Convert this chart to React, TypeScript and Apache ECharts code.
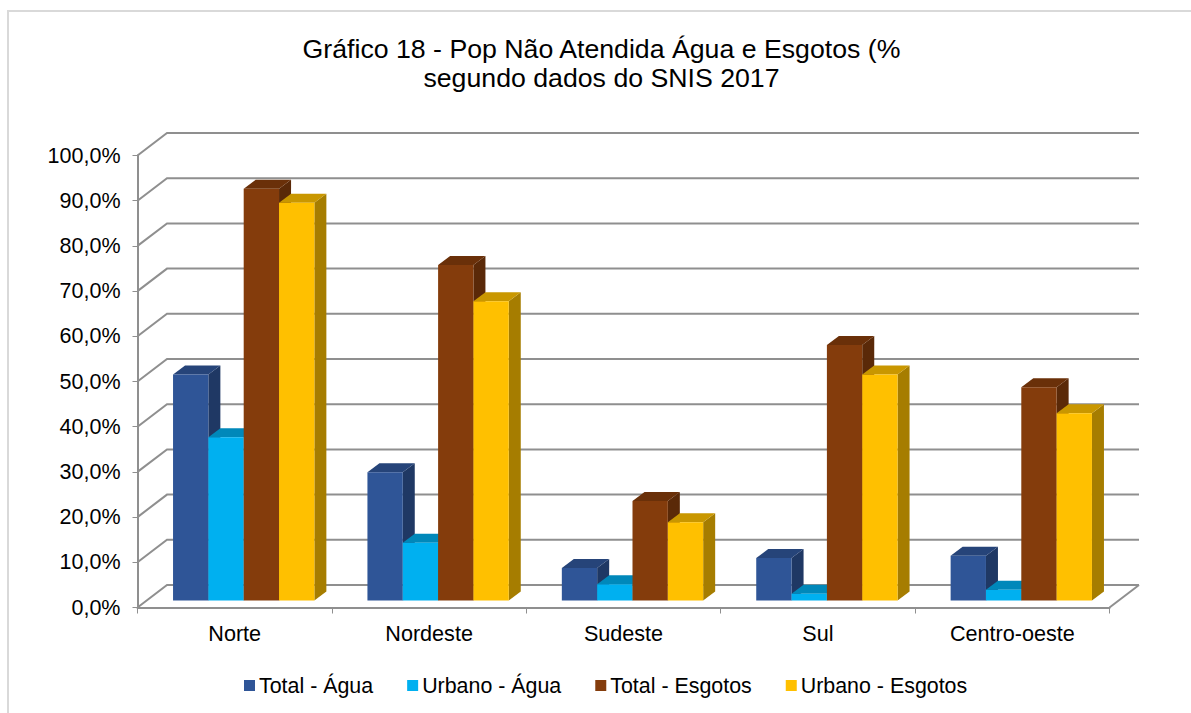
import React, { useEffect, useRef } from "react";
import * as echarts from "echarts";

const categories = ["Norte", "Nordeste", "Sudeste", "Sul", "Centro-oeste"];
const totalAgua = [50.0, 28.4, 7.2, 9.4, 9.9];
const urbanoAgua = [36.1, 12.8, 3.6, 1.5, 2.4];
const totalEsgotos = [91.1, 74.2, 22.0, 56.5, 47.2];
const urbanoEsgotos = [88.0, 66.2, 17.3, 50.0, 41.4];
const yTicks = [0, 10, 20, 30, 40, 50, 60, 70, 80, 90, 100];

const FONT = "'Liberation Sans', Arial, sans-serif";
const WALL_DX = 29.5;
const WALL_DY = -22.5;
const BAR_DX = 12;
const BAR_DY = -9;
const PLANE_DX = 9;
const PLANE_DY = -7;
const GROUP_RATIO = 0.727;
const GRID_COLOR = "#8f8f8f";

const seriesDefs = [
  { name: "Total - Água", values: totalAgua, front: "#2F5597", top: "#264479", side: "#1F3864" },
  { name: "Urbano - Água", values: urbanoAgua, front: "#00B0F0", top: "#0088BA", side: "#0078A5" },
  { name: "Total - Esgotos", values: totalEsgotos, front: "#843C0C", top: "#6A3009", side: "#5A2908" },
  { name: "Urbano - Esgotos", values: urbanoEsgotos, front: "#FFC000", top: "#C99700", side: "#A67D00" },
];

function barRenderer(k: number, def: (typeof seriesDefs)[number]) {
  return (_params: any, api: any) => {
    const cat = api.value(0);
    const val = api.value(1);
    const topPt = api.coord([cat, val]);
    const basePt = api.coord([cat, 0]);
    const band = api.size([1, 0])[0];
    const w = (band * GROUP_RATIO) / 4;
    const x0 = topPt[0] + PLANE_DX - 2 * w + k * w;
    const x1 = x0 + w;
    const yT = topPt[1] + PLANE_DY;
    const yB = basePt[1] + PLANE_DY;
    return {
      type: "group",
      children: [
        {
          type: "polygon",
          shape: { points: [[x1, yT], [x1 + BAR_DX, yT + BAR_DY], [x1 + BAR_DX, yB + BAR_DY], [x1, yB]] },
          style: { fill: def.side },
        },
        {
          type: "polygon",
          shape: { points: [[x0, yT], [x0 + BAR_DX, yT + BAR_DY], [x1 + BAR_DX, yT + BAR_DY], [x1, yT]] },
          style: { fill: def.top },
        },
        { type: "rect", shape: { x: x0, y: yT, width: w, height: yB - yT }, style: { fill: def.front } },
      ],
    };
  };
}

function wallRenderer(params: any, api: any) {
  const cs = params.coordSys;
  const y = api.coord([0, api.value(1)])[1];
  const xL = cs.x;
  const xR = cs.x + cs.width;
  const children: any[] = [
    {
      type: "polyline",
      shape: { points: [[xL, y], [xL + WALL_DX, y + WALL_DY], [xR + WALL_DX, y + WALL_DY]] },
      style: { stroke: GRID_COLOR, lineWidth: 2, fill: "none" },
    },
  ];
  if (api.value(1) === 0) {
    children.push({
      type: "line",
      shape: { x1: xR, y1: y, x2: xR + WALL_DX, y2: y + WALL_DY },
      style: { stroke: GRID_COLOR, lineWidth: 2 },
    });
  }
  return { type: "group", children };
}

export default function App() {
  const ref = useRef<HTMLDivElement>(null);
  useEffect(() => {
    document.body.style.margin = "0";
    document.body.style.overflow = "hidden";
    const chart = echarts.init(ref.current!, undefined, { renderer: "svg" });
    chart.setOption({
      animation: false,
      backgroundColor: "#ffffff",
      title: {
        text: "Gráfico 18 - Pop Não Atendida Água e Esgotos (%\nsegundo dados do SNIS 2017",
        left: 596.5,
        top: 29,
        textAlign: "center",
        textStyle: { fontFamily: FONT, fontSize: 26.7, fontWeight: "normal", color: "#000000", lineHeight: 29 },
      },
      legend: {
        left: 239,
        top: 670,
        icon: "rect",
        itemWidth: 11,
        itemHeight: 11,
        itemGap: 34,
        selectedMode: false,
        textStyle: { fontFamily: FONT, fontSize: 21.4, color: "#000000", padding: [0, 0, 0, -1] },
        data: seriesDefs.map((d) => d.name),
      },
      grid: { left: 137.5, top: 155.5, width: 972, height: 452 },
      xAxis: {
        type: "category",
        data: categories,
        boundaryGap: true,
        axisLine: { lineStyle: { color: GRID_COLOR, width: 2 } },
        axisTick: { show: true, length: 6, lineStyle: { color: GRID_COLOR, width: 1 } },
        axisLabel: { fontFamily: FONT, fontSize: 21.6, color: "#000000", margin: 15 },
        splitLine: { show: false },
      },
      yAxis: {
        type: "value",
        min: 0,
        max: 100,
        interval: 10,
        axisLine: { show: true, lineStyle: { color: GRID_COLOR, width: 2 } },
        axisTick: { show: true, length: 5, lineStyle: { color: GRID_COLOR, width: 1 } },
        axisLabel: {
          fontFamily: FONT,
          fontSize: 21.5,
          color: "#000000",
          margin: 17,
          formatter: (v: number) => v.toFixed(1).replace(".", ",") + "%",
        },
        splitLine: { show: false },
      },
      graphic: [
        {
          type: "rect",
          silent: true,
          z: -10,
          shape: { x: 8, y: 11, width: 1400, height: 900 },
          style: { fill: "#ffffff", stroke: "#d9d9d9", lineWidth: 2 },
        },
      ],
      series: [
        {
          type: "custom",
          name: "wall",
          silent: true,
          z: 1,
          renderItem: wallRenderer,
          data: yTicks.map((v) => [0, v]),
          tooltip: { show: false },
        },
        ...seriesDefs.map((d, k) => ({
          type: "custom",
          name: d.name,
          z: 2 + k,
          itemStyle: { color: d.front },
          renderItem: barRenderer(k, d),
          data: d.values.map((v, i) => [i, v]),
        })),
      ],
    });
    return () => chart.dispose();
  }, []);
  return <div ref={ref} style={{ position: "fixed", left: 0, top: 0, width: 1191, height: 713 }} />;
}
